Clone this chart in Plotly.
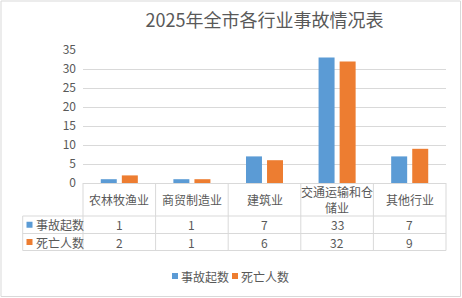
import plotly.graph_objects as go

categories = ["农林牧渔业", "商贸制造业", "建筑业", "交通运输和仓储业", "其他行业"]
category_labels = ["农林牧渔业", "商贸制造业", "建筑业", "交通运输和仓<br>储业", "其他行业"]
accidents = [1, 1, 7, 33, 7]
deaths = [2, 1, 6, 32, 9]
series_names = ["事故起数", "死亡人数"]
colors = ["#5B9BD5", "#ED7D31"]
title_text = "2025年全市各行业事故情况表"

FONT = "Noto Sans CJK SC, Noto Sans, sans-serif"
TXT = "#595959"
GRID = "#D9D9D9"

# layout geometry (pixels)
W, H = 462, 298
L, R, T, B = 83, 16, 50, 115
PW, PH = W - L - R, H - T - B
def px(x):
    return (x - L) / PW
def py(y):
    return (H - B - y) / PH

fig = go.Figure()
for name, vals, c in zip(series_names, [accidents, deaths], colors):
    fig.add_trace(go.Bar(x=list(range(len(categories))), y=vals, name=name,
                         marker=dict(color=c, line=dict(width=0)), showlegend=False))

shapes = []
ann = []

# outer border
shapes.append(dict(type="rect", xref="paper", yref="paper", x0=px(1), x1=px(460.5), y0=py(1), y1=py(296.5),
                   line=dict(color=GRID, width=1), fillcolor="rgba(0,0,0,0)", layer="below"))

n = len(categories)
row_y = [183, 216, 233.5, 250.5]
left_col = 22.7
# table horizontal lines
for yy in row_y[1:]:
    shapes.append(dict(type="line", xref="paper", yref="paper", x0=px(left_col), x1=1, y0=py(yy), y1=py(yy),
                       line=dict(color=GRID, width=1)))
# table vertical lines at category boundaries
for k in range(n + 1):
    shapes.append(dict(type="line", xref="paper", yref="paper", x0=k / n, x1=k / n, y0=py(183), y1=py(250.5),
                       line=dict(color=GRID, width=1)))
shapes.append(dict(type="line", xref="paper", yref="paper", x0=px(left_col), x1=px(left_col),
                   y0=py(216), y1=py(250.5), line=dict(color=GRID, width=1)))

# header labels
for i, lab in enumerate(category_labels):
    ann.append(dict(x=i, xref="x", y=py(199.5), yref="paper", text=lab, showarrow=False,
                    xanchor="center", yanchor="middle",
                    font=dict(family=FONT, size=12, color=TXT), align="center"))
# rows
for r, (name, vals, c) in enumerate(zip(series_names, [accidents, deaths], colors)):
    yc = (row_y[r + 1] + row_y[r + 2]) / 2
    shapes.append(dict(type="rect", xref="paper", yref="paper", x0=px(26.5), x1=px(32.5),
                       y0=py(yc - 3), y1=py(yc + 3), fillcolor=c, line=dict(width=0)))
    ann.append(dict(x=px(34), xref="paper", y=py(yc), yref="paper", text=name, showarrow=False,
                    xanchor="left", yanchor="middle", font=dict(family=FONT, size=12, color=TXT)))
    for i, v in enumerate(vals):
        ann.append(dict(x=i, xref="x", y=py(yc), yref="paper", text=str(v), showarrow=False,
                        xanchor="center", yanchor="middle",
                        font=dict(family=FONT, size=12, color=TXT)))

# bottom legend
leg_y = 276
leg_items = [(172, 179), (232, 239)]
for (sx, tx), name, c in zip(leg_items, series_names, colors):
    shapes.append(dict(type="rect", xref="paper", yref="paper", x0=px(sx), x1=px(sx + 6),
                       y0=py(leg_y - 3), y1=py(leg_y + 3), fillcolor=c, line=dict(width=0)))
    ann.append(dict(x=px(tx), xref="paper", y=py(leg_y), yref="paper", text=name, showarrow=False,
                    xanchor="left", yanchor="middle", font=dict(family=FONT, size=12, color=TXT)))

fig.update_layout(
    width=W, height=H,
    margin=dict(l=L, r=R, t=T, b=B),
    paper_bgcolor="white", plot_bgcolor="white",
    title=dict(text=title_text, x=0.5, xref="paper", xanchor="center", y=1 - 21 / H, yanchor="middle",
               font=dict(family=FONT, size=18, color=TXT)),
    barmode="group", bargap=0.42, bargroupgap=0.24,
    xaxis=dict(range=[-0.5, n - 0.5], showticklabels=False, showgrid=False, zeroline=False,
               showline=True, linecolor=GRID, linewidth=1, fixedrange=True),
    yaxis=dict(range=[0, 35], dtick=5, showgrid=True, gridcolor=GRID, gridwidth=1, zeroline=False,
               showline=False, tickfont=dict(family=FONT, size=12, color=TXT), ticklabelstandoff=6,
               fixedrange=True),
    shapes=shapes, annotations=ann,
    showlegend=False,
)

fig.write_html("out.html", config={"displayModeBar": False})
